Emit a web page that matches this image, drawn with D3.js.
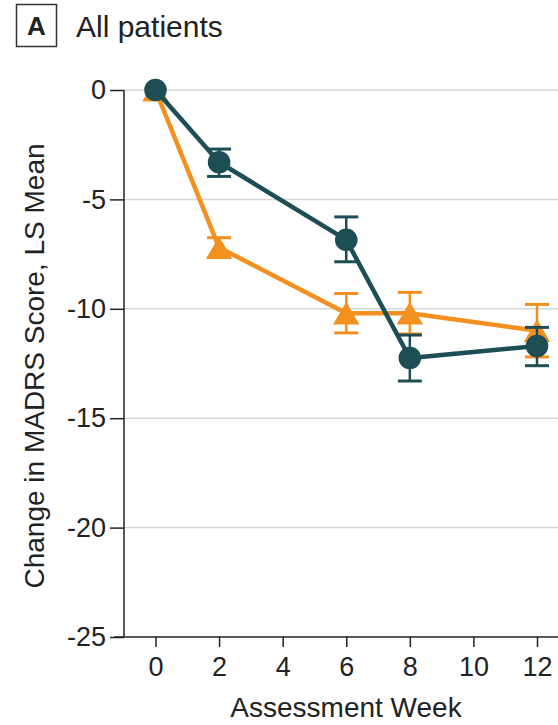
<!DOCTYPE html>
<html>
<head>
<meta charset="utf-8">
<script src="https://cdn.jsdelivr.net/npm/d3@7"></script>
<style>
  body { margin: 0; background: #fff; }
  text { font-family: "Liberation Sans", "DejaVu Sans", sans-serif; fill: #222; }
</style>
</head>
<body>
<svg id="chart" width="558" height="725"></svg>
<script>
// values
const weeks = [0, 2, 6, 8, 12]
const yTicks = [0, -5, -10, -15, -20, -25]
const xTicks = [0, 2, 4, 6, 8, 10, 12]

const tealMean = [0, -3.3, -6.85, -12.25, -11.7]
const tealHi   = [null, -2.7, -5.8, -11.2, -10.85]
const tealLo   = [null, -3.95, -7.85, -13.3, -12.6]

const orangeMean = [0, -7.2, -10.2, -10.2, -11.0]
const orangeHi   = [null, -6.75, -9.3, -9.25, -9.8]
const orangeLo   = [null, -7.65, -11.1, -11.15, -12.2]

const teal = "#1e4e55"
const orange = "#f39020"

var svg = d3.select("#chart")

var x = d3.scaleLinear().domain([0, 12]).range([155.5, 537])
var y = d3.scaleLinear().domain([-25, 0]).range([637, 90])

// panel label
svg.append("rect")
  .attr("x", 16.5).attr("y", 4.5).attr("width", 40).attr("height", 42)
  .attr("fill", "none").attr("stroke", "#333").attr("stroke-width", 1.5)
svg.append("text")
  .attr("x", 36.5).attr("y", 35).attr("text-anchor", "middle")
  .style("font-weight", "bold").style("font-size", "26px")
  .text("A")
svg.append("text")
  .attr("x", 76).attr("y", 37)
  .style("font-size", "30px")
  .text("All patients")

// gridlines
svg.append("g").selectAll("line")
  .data(yTicks.filter(d => d > -25))
  .enter().append("line")
  .attr("x1", 124).attr("x2", 558)
  .attr("y1", d => y(d)).attr("y2", d => y(d))
  .attr("stroke", "#d6d6d6").attr("stroke-width", 1.5)

// axes
var yAxis = svg.append("g")
  .attr("transform", "translate(124,0)")
  .call(d3.axisLeft(y).tickValues(yTicks).tickSize(14).tickPadding(4).tickFormat(d => String(d)))
var xAxis = svg.append("g")
  .attr("transform", "translate(0,637)")
  .call(d3.axisBottom(x).tickValues(xTicks).tickSize(10).tickPadding(10))

;[yAxis, xAxis].forEach(function(g){
  g.select(".domain").remove()
  g.selectAll("line").attr("stroke", "#222").attr("stroke-width", 1.5)
  g.selectAll("text").style("font-size", "27px").attr("fill", "#222")
    .style("font-family", "Liberation Sans, sans-serif")
})
svg.append("line").attr("x1", 124).attr("x2", 124).attr("y1", 90).attr("y2", 637)
  .attr("stroke", "#222").attr("stroke-width", 1.5)
svg.append("line").attr("x1", 114).attr("x2", 558).attr("y1", 637).attr("y2", 637)
  .attr("stroke", "#222").attr("stroke-width", 1.5)

// axis titles
svg.append("text")
  .attr("x", 346).attr("y", 717).attr("text-anchor", "middle")
  .style("font-size", "28px")
  .text("Assessment Week")
svg.append("text")
  .attr("transform", "translate(44,366) rotate(-90)")
  .attr("text-anchor", "middle")
  .style("font-size", "28px")
  .text("Change in MADRS Score, LS Mean")

function series(mean, hi, lo, color, symbol, size, dy) {
  var pts = weeks.map((w, i) => ({w: w, m: mean[i], hi: hi[i], lo: lo[i]}))
  var g = svg.append("g")
  g.append("path")
    .datum(pts)
    .attr("fill", "none").attr("stroke", color).attr("stroke-width", 4.5)
    .attr("d", d3.line().x(d => x(d.w)).y(d => y(d.m)))
  var eb = g.selectAll(".eb").data(pts.filter(d => d.hi != null)).enter().append("g")
  eb.append("line")
    .attr("x1", d => x(d.w)).attr("x2", d => x(d.w))
    .attr("y1", d => y(d.hi)).attr("y2", d => y(d.lo))
    .attr("stroke", color).attr("stroke-width", 2.5)
  eb.selectAll(".cap").data(d => [[d.w, d.hi], [d.w, d.lo]]).enter().append("line")
    .attr("x1", d => x(d[0]) - 12).attr("x2", d => x(d[0]) + 12)
    .attr("y1", d => y(d[1])).attr("y2", d => y(d[1]))
    .attr("stroke", color).attr("stroke-width", 3)
  // dy shifts a marker so its bounding box, not its centroid, sits on the point
  g.selectAll(".pt").data(pts).enter().append("path")
    .attr("transform", d => "translate(" + x(d.w) + "," + (y(d.m) + dy) + ")")
    .attr("d", d3.symbol().type(symbol).size(size))
    .attr("fill", color)
}

series(orangeMean, orangeHi, orangeLo, orange, d3.symbolTriangle, 300, 3.8)
series(tealMean, tealHi, tealLo, teal, d3.symbolCircle, 400, 0)
</script>
</body>
</html>
